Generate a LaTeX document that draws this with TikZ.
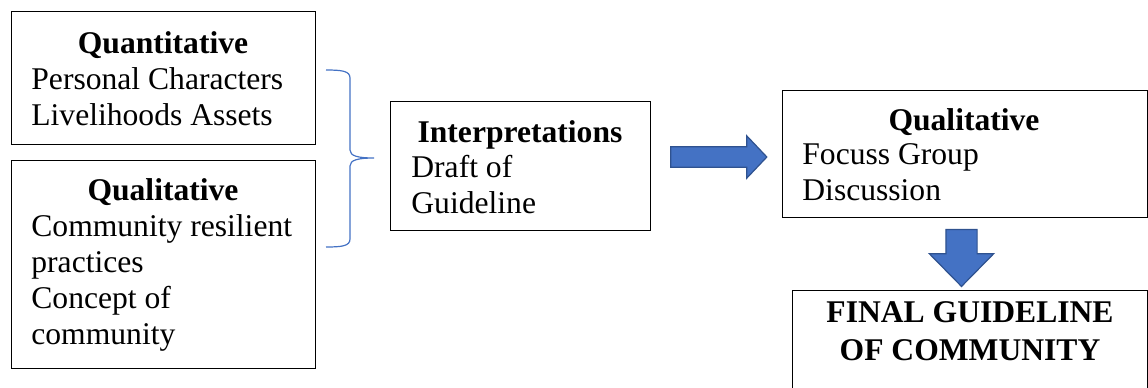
\documentclass[tikz,border=0pt]{standalone}
\usepackage{fontspec}
\setmainfont{Liberation Serif}
\usetikzlibrary{positioning,shapes.arrows}
\definecolor{arrowblue}{HTML}{4472C4}
\definecolor{arrowedge}{HTML}{2F528F}

\begin{document}
\begin{tikzpicture}[x=0.5pt,y=-0.5pt
    , every node/.style={inner sep=0pt}
    , box/.style={draw,line width=0.7pt,anchor=north west}
    , head/.style={font=\bfseries,anchor=base}
    , body/.style={align=left,anchor=base west}
    , blockarrow/.style={single arrow,fill=arrowblue,draw=arrowedge,line width=0.6pt}
]
    \fontsize{15.8pt}{18pt}\selectfont
    \clip (0,0) rectangle (1148,387);

    % Quantitative
    \node[box,minimum width=152pt,minimum height=66.5pt] (quantbox) at (11,11) {};
    \node[head] (quanttitle) at (163,53) {Quantitative};
    \node[body] (quanttext) at (31,125) {Personal Characters\\Livelihoods Assets};

    % Qualitative, left
    \node[box,minimum width=152pt,minimum height=104pt] (qualbox) at (11,160) {};
    \node[head] (qualtitle) at (163,200) {Qualitative};
    \node[body] (qualtext) at (31,344)
        {Community resilient\\practices\\Concept of\\community};

    % Brace
    \draw[arrowblue,line width=0.6pt] (326,70) .. controls (342,70) and (350,71) .. (350,78)
        -- (350,150) .. controls (350,156) and (358,158) .. (374,158)
        .. controls (358,158) and (350,160) .. (350,166)
        -- (350,239) .. controls (350,246) and (342,247) .. (326,247);

    % Interpretations
    \node[box,minimum width=130pt,minimum height=64.5pt] (interbox) at (390,101) {};
    \node[head] (intertitle) at (520,142) {Interpretations};
    \node[body] (intertext) at (411,213) {Draft of\\Guideline};

    \node[blockarrow,inner ysep=4.8pt,minimum height=48pt,
        single arrow head extend=5.5pt,single arrow tip angle=93] (rarrow) at (714,157) {};

    % Qualitative, right
    \node[box,minimum width=182.5pt,minimum height=63.5pt] (focusbox) at (782,90) {};
    \node[head] (focustitle) at (964,130) {Qualitative};
    \node[body] (focustext) at (802,200) {Focuss Group\\Discussion};

    \node[blockarrow,rotate=-90,inner ysep=7.5pt,minimum height=28.5pt,
        single arrow head extend=8.25pt,single arrow tip angle=89] (darrow) at (961.5,250) {};

    % Final
    \node[box,minimum width=177.5pt,minimum height=60pt] (finalbox) at (792,290) {};
    \node[head,align=center] (finaltitle) at (970,360) {FINAL GUIDELINE\\[1pt]OF COMMUNITY};
\end{tikzpicture}
\end{document}
